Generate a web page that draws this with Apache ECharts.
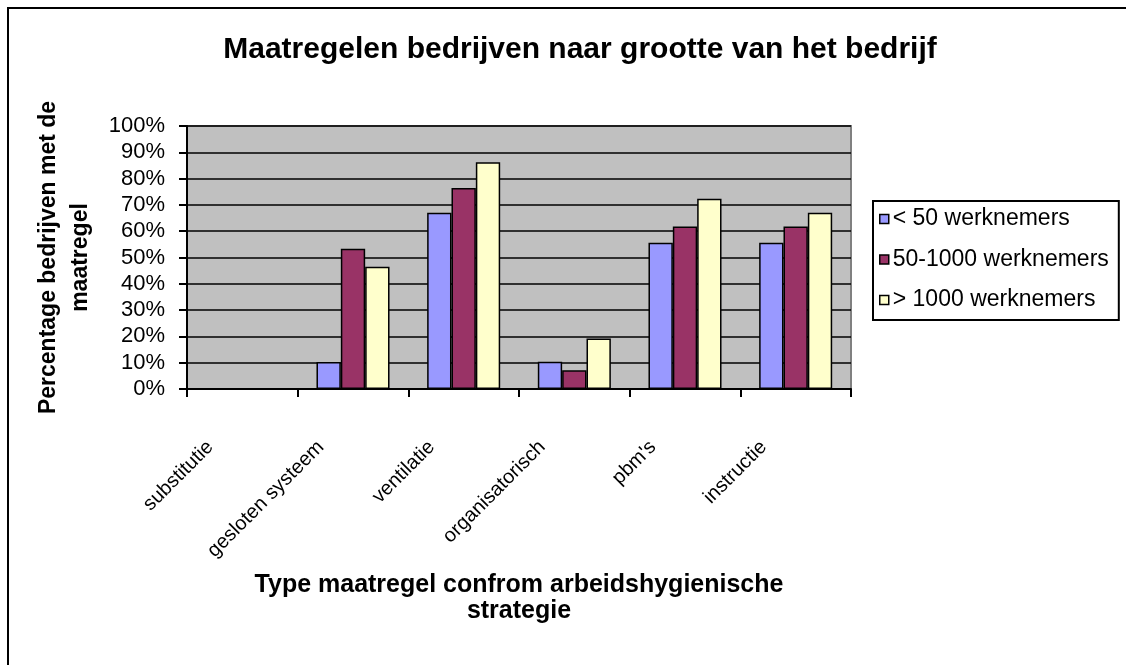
<!DOCTYPE html>
<html>
<head>
<meta charset="utf-8">
<script src="https://cdn.jsdelivr.net/npm/echarts@6/dist/echarts.min.js"></script>
<style>
  html, body { margin: 0; padding: 0; background: #fff; }
  #chart { width: 1126px; height: 665px; }
</style>
</head>
<body>
<div id="chart"></div>
<script>
// categories and values (percent of companies)
var categories = ["substitutie", "gesloten systeem", "ventilatie", "organisatorisch", "pbm's", "instructie"];
var seriesNames = ["< 50 werknemers", "50-1000 werknemers", "> 1000 werknemers"];
var small = [0, 10.3, 67.0, 10.4, 55.6, 55.6];
var medium = [0, 53.3, 76.4, 7.1, 61.8, 61.8];
var large = [0, 46.5, 86.2, 19.2, 72.3, 67.0];
var colors = ["#9999FF", "#993366", "#FFFFCC"];

var font = "'Liberation Sans', Arial, sans-serif";
var chart = echarts.init(document.getElementById("chart"));

function barSeries(i, data) {
  return {
    name: seriesNames[i],
    type: "bar",
    data: data,
    barGap: "0%",
    barCategoryGap: "34%",
    itemStyle: { color: colors[i], borderColor: "#000", borderWidth: 1.5 },
  };
}

chart.setOption({
  animation: false,
  textStyle: { fontFamily: font, color: "#000" },
  title: {
    text: "Maatregelen bedrijven naar grootte van het bedrijf",
    left: 580,
    top: 35,
    padding: 0,
    textAlign: "center",
    textStyle: { fontFamily: font, fontSize: 30, fontWeight: "bold", color: "#000" },
  },
  graphic: [
    {
      type: "rect",
      z: -10,
      shape: { x: 8, y: 8, width: 1130, height: 670 },
      style: { fill: "none", stroke: "#000", lineWidth: 2 },
    },
  ],
  legend: {
    orient: "vertical",
    left: 873,
    top: 201,
    padding: [6, 10, 8, 6],
    itemGap: 16.5,
    itemWidth: 9,
    itemHeight: 9,
    icon: "rect",
    selectedMode: false,
    borderColor: "#000",
    borderWidth: 2,
    backgroundColor: "#fff",
    itemStyle: { borderColor: "#000", borderWidth: 1.5 },
    textStyle: { fontFamily: font, fontSize: 23, lineHeight: 24, color: "#000", padding: [0, 0, 0, -1] },
    data: seriesNames,
  },
  grid: [
    {
      left: 187,
      top: 126,
      width: 664,
      height: 263,
      show: true,
      backgroundColor: "#C0C0C0",
      borderColor: "#808080",
      borderWidth: 2,
    },
    {
      left: 155,
      top: 126,
      width: 664,
      height: 263,
      show: false,
    },
  ],
  xAxis: [
    {
      type: "category",
      data: categories,
      gridIndex: 0,
      axisLine: { lineStyle: { color: "#000", width: 2 } },
      axisTick: { show: true, interval: 0, length: 8, lineStyle: { color: "#000", width: 2 } },
      axisLabel: { show: false, interval: 0 },
      name: "Type maatregel confrom arbeidshygienische\nstrategie",
      nameLocation: "middle",
      nameGap: 183,
      nameTextStyle: { fontFamily: font, fontSize: 25, fontWeight: "bold", lineHeight: 26, color: "#000" },
    },
    {
      type: "category",
      data: categories,
      gridIndex: 1,
      axisLine: { show: false },
      axisTick: { show: false },
      axisLabel: { rotate: 45, margin: 55, fontFamily: font, fontSize: 20, color: "#000", interval: 0 },
    },
  ],
  yAxis: [
    {
      type: "value",
      gridIndex: 0,
      min: 0,
      max: 100,
      interval: 10,
      axisLine: { show: true, lineStyle: { color: "#000", width: 2 } },
      axisTick: { show: true, length: 8, lineStyle: { color: "#000", width: 2 } },
      axisLabel: { formatter: "{value}%", margin: 22, fontFamily: font, fontSize: 22, color: "#000" },
      splitLine: { show: true, lineStyle: { color: "#000", width: 1.5 } },
      name: "Percentage bedrijven met de\nmaatregel",
      nameLocation: "middle",
      nameGap: 90,
      nameTextStyle: { fontFamily: font, fontSize: 23, fontWeight: "bold", lineHeight: 32, color: "#000" },
    },
    { type: "value", gridIndex: 1, show: false, min: 0, max: 100 },
  ],
  series: [barSeries(0, small), barSeries(1, medium), barSeries(2, large)],
});
</script>
</body>
</html>
